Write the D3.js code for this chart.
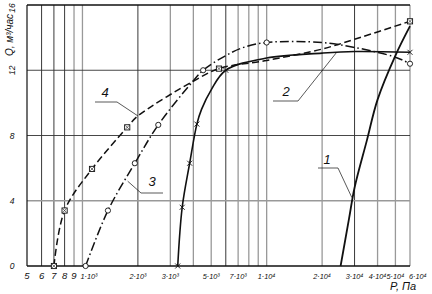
<!DOCTYPE html>
<html>
<head>
<meta charset="utf-8">
<script src="https://cdn.jsdelivr.net/npm/d3@7"></script>
<style>
body{margin:0;background:#fff}
text{font-family:"Liberation Sans",Arial,sans-serif;font-style:italic;fill:#111}
</style>
</head>
<body>
<script>
// pressure grid (Pa) and labelled ticks
const gridP = [600,700,800,900,1000,2000,3000,4000,5000,6000,7000,8000,9000,10000,20000,30000,40000,50000,60000];
const darkP = [600,700,800,2000,6000,30000];
const tickP = [500,600,700,800,900,1000,2000,3000,5000,7000,10000,20000,30000,40000,50000,60000];
const tickLabels = ['5','6','7','8','9','1·10³','2·10³','3·10³','5·10³','7·10³','1·10⁴','2·10⁴','3·10⁴','4·10⁴','5·10⁴','6·10⁴'];
const gridQ = [4,8,12];
const tickQ = [0,4,8,12,16];

// curve 1 (solid)
const p1 = [25200,28000,30000,35000,40000,50000,60000];
const q1 = [0,2.9,4.8,7.7,10.2,12.9,14.7];
// curve 2 (solid, crosses)
const p2 = [3290,3480,3820,4180,4430,5000,6000,10000,20000,30000,60000];
const q2 = [0,3.6,6.3,8.7,9.6,10.8,12.0,12.75,13.05,13.15,13.1];
const m2 = [0,1,2,3,6,10];
// curve 3 (dash-dot, circles)
const p3 = [1040,1375,1925,2580,3960,4520,6000,7500,10000,20000,30000,50000,60000];
const q3 = [0,3.4,6.3,8.65,11.3,12.0,12.9,13.4,13.7,13.7,13.4,12.8,12.4];
const m3 = [0,1,2,3,5,8,12];
// curve 4 (dashed, squares)
const p4 = [700,800,1127,1750,2000,3960,5510,10000,20000,30000,60000];
const q4 = [0,3.4,5.95,8.5,9.2,11.3,12.1,12.6,13.3,13.9,15.0];
const m4 = [0,1,2,3,6,10];

const w = 432, h = 294;
const svg = d3.select('body').append('svg').attr('width', w).attr('height', h);

const x = d3.scaleLog().domain([500, 60000]).range([27, 410]);
const y = d3.scaleLinear().domain([0, 16]).range([266, 5]);

// grid
svg.append('g').selectAll('line').data(gridP).enter().append('line')
  .attr('x1', d => x(d)).attr('x2', d => x(d))
  .attr('y1', y(0)).attr('y2', y(16))
  .attr('stroke', d => darkP.includes(d) ? '#222' : '#999')
  .attr('stroke-width', d => darkP.includes(d) ? 0.9 : 1.3);
svg.append('g').selectAll('line').data(gridQ).enter().append('line')
  .attr('x1', x(500)).attr('x2', x(60000))
  .attr('y1', d => y(d)).attr('y2', d => y(d))
  .attr('stroke', d => d === 4 ? '#999' : '#333')
  .attr('stroke-width', d => d === 4 ? 1.3 : 0.9);

// frame: left, bottom, top
svg.append('line').attr('x1', x(500)).attr('x2', x(500)).attr('y1', y(0)).attr('y2', y(16)).attr('stroke', '#111').attr('stroke-width', 1.2);
svg.append('line').attr('x1', x(500)).attr('x2', x(60000)).attr('y1', y(0)).attr('y2', y(0)).attr('stroke', '#111').attr('stroke-width', 1.4);
svg.append('line').attr('x1', x(500)).attr('x2', x(60000)).attr('y1', y(16)).attr('y2', y(16)).attr('stroke', '#111').attr('stroke-width', 1.6);

// x tick labels
svg.append('g').selectAll('text').data(tickP).enter().append('text')
  .attr('x', d => d === 1000 ? x(d) - 2 : d === 60000 ? x(d) - 1 : x(d))
  .attr('y', 279)
  .attr('text-anchor', d => (d === 1000 || d === 60000) ? 'start' : 'middle')
  .attr('font-size', (d, i) => tickLabels[i].length > 1 ? 7.3 : 9.5)
  .text((d, i) => tickLabels[i]);

// y tick labels
svg.append('g').selectAll('text').data(tickQ).enter().append('text')
  .attr('transform', d => d >= 12 ? `translate(15,${d === 16 ? y(d) + 3 : y(d)}) rotate(-90)` : `translate(12,${y(d) + 3})`)
  .attr('text-anchor', 'middle')
  .attr('font-size', 8.5)
  .text(d => d);

svg.append('text').attr('transform', 'translate(13,35) rotate(-90)')
  .attr('text-anchor', 'middle').attr('font-size', 10)
  .text('Q, м³/час');
svg.append('text').attr('x', 390).attr('y', 290).attr('font-size', 11).text('P, Па');

// curves
const line = d3.line().x(d => x(d[0])).y(d => y(d[1])).curve(d3.curveCatmullRom.alpha(0.5));
const curves = [
  {p: p1, q: q1, dash: null, sw: 1.8},
  {p: p2, q: q2, dash: null, sw: 1.6},
  {p: p3, q: q3, dash: '9,3,1.5,3', sw: 1.5},
  {p: p4, q: q4, dash: '7,3.5', sw: 1.5}
];
curves.forEach(c => {
  svg.append('path').datum(c.p.map((v, i) => [v, c.q[i]]))
    .attr('d', line).attr('fill', 'none').attr('stroke', '#111')
    .attr('stroke-width', c.sw).attr('stroke-dasharray', c.dash);
});

// markers
svg.append('g').selectAll('path').data(m2).enter().append('path')
  .attr('transform', i => `translate(${x(p2[i])},${y(q2[i])})`)
  .attr('d', 'M-2.5,-2.5L2.5,2.5M-2.5,2.5L2.5,-2.5')
  .attr('stroke', '#111').attr('stroke-width', 0.9);
svg.append('g').selectAll('circle').data(m3).enter().append('circle')
  .attr('cx', i => x(p3[i])).attr('cy', i => y(q3[i])).attr('r', 2.6)
  .attr('fill', '#fff').attr('stroke', '#111').attr('stroke-width', 0.9);
svg.append('g').selectAll('rect').data(m4).enter().append('rect')
  .attr('x', i => x(p4[i]) - 2.6).attr('y', i => y(q4[i]) - 2.6)
  .attr('width', 5.2).attr('height', 5.2)
  .attr('fill', '#fff').attr('stroke', '#111').attr('stroke-width', 0.9);
svg.append('g').selectAll('path').data(m4).enter().append('path')
  .attr('transform', i => `translate(${x(p4[i])},${y(q4[i])})`)
  .attr('d', 'M-2,-2L2,2M-2,2L2,-2')
  .attr('stroke', '#111').attr('stroke-width', 0.6);

// curve labels with leaders
const labels = [
  {t: '1', p: 29000, q: 4.2, lx: 327, ly: 164, hx0: 318, hx1: 338, hy: 168},
  {t: '2', p: 24000, q: 13.1, lx: 286, ly: 96, hx0: 273, hx1: 298, hy: 101},
  {t: '3', p: 1760, q: 5.2, lx: 152, ly: 186, hx0: 141, hx1: 163, hy: 193},
  {t: '4', p: 2000, q: 9.2, lx: 105, ly: 97, hx0: 95, hx1: 117, hy: 102}
];
labels.forEach(l => {
  const endX = l.t === '3' ? l.hx0 : l.hx1;
  svg.append('path')
    .attr('d', `M${l.hx0},${l.hy}L${l.hx1},${l.hy}M${endX},${l.hy}L${x(l.p)},${y(l.q)}`)
    .attr('fill', 'none').attr('stroke', '#111').attr('stroke-width', 0.7);
  svg.append('text').attr('x', l.lx).attr('y', l.ly)
    .attr('text-anchor', 'middle').attr('font-size', 13).text(l.t);
});
</script>
</body>
</html>
